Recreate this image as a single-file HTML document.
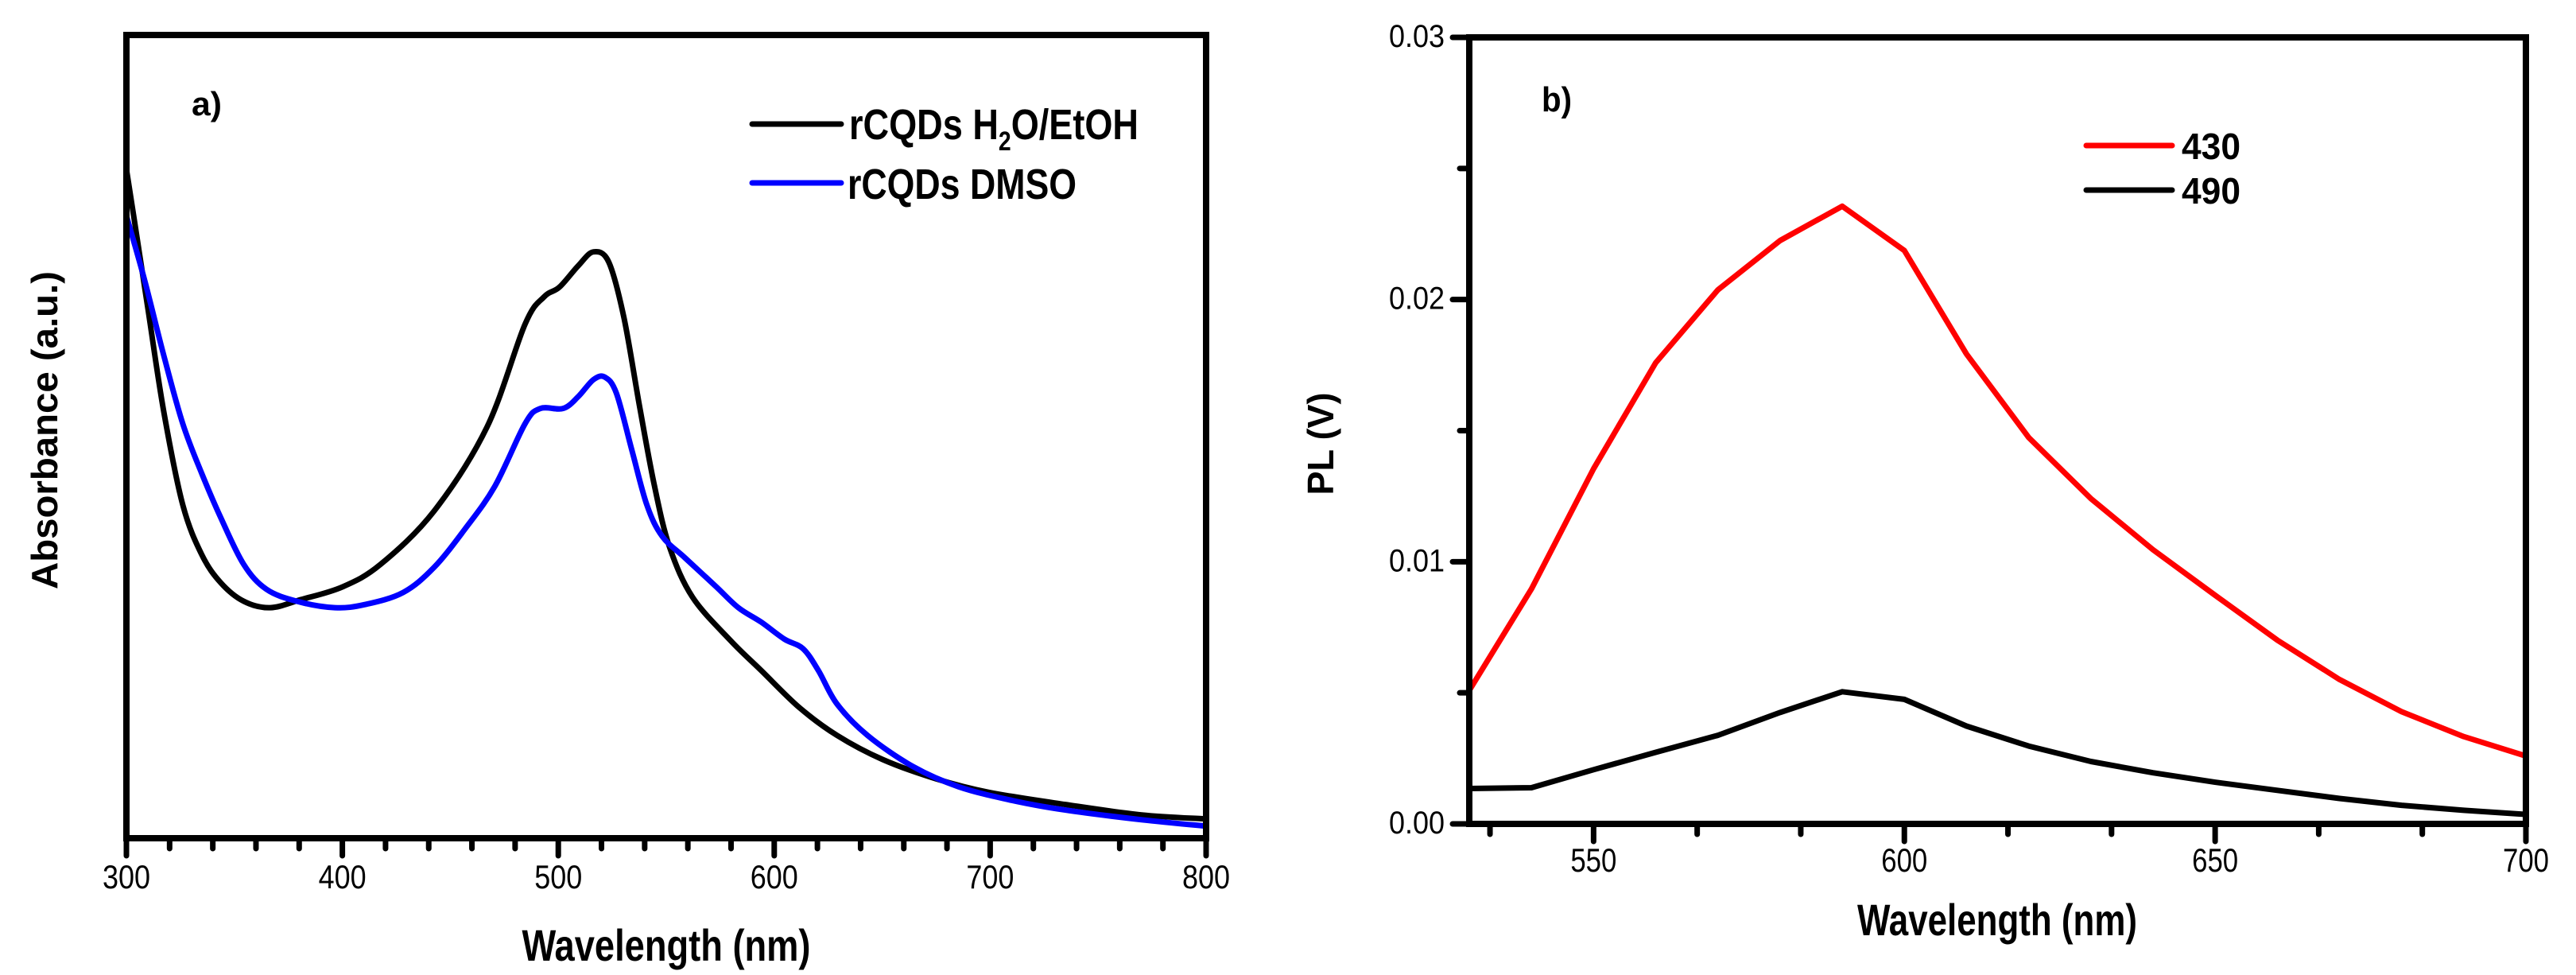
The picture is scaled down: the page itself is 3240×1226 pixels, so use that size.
<!DOCTYPE html>
<html><head><meta charset="utf-8"><style>
html,body{margin:0;padding:0;background:#fff;}
svg{display:block;}
text{font-family:"Liberation Sans Narrow","Liberation Sans",sans-serif;fill:#000;}
</style></head>
<body>
<svg id="fig" width="3240" height="1226" viewBox="0 0 3240 1226" xmlns="http://www.w3.org/2000/svg">
<g id="panelA"></g>
<g id="panelB"></g>
</svg>
<script>
// ---- Panel A data (absorbance, arbitrary units 0..1 of axis height) ----
const absWavelengthH2O = [300,304.9,310.2,317.3,326.1,334.9,343.7,354.3,366.6,380.7,400.1,417.7,442.4,467.0,484.6,493.4,500.5,509.3,516.3,523.4,530.4,537.5,544.5,551.6,562.2,579.8,593.9,611.5,629.1,650.2,674.9,699.6,734.8,770.1,800];
const absValuesH2O = [0.833,0.748,0.655,0.531,0.415,0.353,0.318,0.295,0.287,0.297,0.313,0.341,0.407,0.512,0.640,0.674,0.686,0.713,0.730,0.717,0.648,0.540,0.439,0.362,0.300,0.246,0.209,0.163,0.128,0.098,0.074,0.057,0.042,0.029,0.024];
const absWavelengthDMSO = [300,308.5,317.3,326.1,334.9,343.7,354.3,364.8,378.9,396.5,410.6,428.2,442.4,456.5,470.6,484.6,491.7,502.3,509.3,516.3,521.6,526.9,534.0,541.0,548.1,558.7,572.8,583.4,594.0,604.6,613.3,620.4,629.1,643.2,664.4,685.5,710.1,734.8,770.1,800];
const absValuesDMSO = [0.775,0.694,0.601,0.516,0.454,0.399,0.341,0.310,0.295,0.287,0.291,0.306,0.337,0.384,0.438,0.516,0.535,0.535,0.550,0.571,0.574,0.554,0.484,0.415,0.376,0.349,0.314,0.287,0.269,0.248,0.236,0.209,0.167,0.128,0.089,0.064,0.047,0.035,0.023,0.015];
const absXTicks = [300,400,500,600,700,800];
const absXTickLabels = ["300","400","500","600","700","800"];

// ---- Panel B data (PL) ----
const plWavelength = [530,540,550,560,570,580,590,600,610,620,630,640,650,660,670,680,690,700];
const pl430 = [0.00509,0.00896,0.01355,0.01759,0.02037,0.02225,0.02356,0.02187,0.01792,0.01474,0.01241,0.01046,0.00872,0.00701,0.00551,0.00428,0.00333,0.00259];
const pl490 = [0.00135,0.00138,0.00207,0.00273,0.00338,0.00425,0.00504,0.00475,0.00373,0.00297,0.00238,0.00195,0.00159,0.00128,0.00097,0.00071,0.00052,0.00036];
const plXTicks = [550,600,650,700];
const plXTickLabels = ["550","600","650","700"];
const plYTicks = [0,0.01,0.02,0.03];
const plYTickLabels = ["0.00","0.01","0.02","0.03"];

const NS = "http://www.w3.org/2000/svg";
function mk(parent, tag, attrs, txt){
  const e = document.createElementNS(NS, tag);
  for (const k in attrs) e.setAttribute(k, attrs[k]);
  if (txt !== undefined) e.textContent = txt;
  parent.appendChild(e);
  return e;
}
function pathFrom(xs, ys, fx, fy){
  return xs.map((x,i)=>(i?"L":"M")+fx(x).toFixed(1)+","+fy(ys[i]).toFixed(1)).join(" ");
}
function smoothPath(xs, ys, fx, fy){
  const P = xs.map((x,i)=>[fx(x), fy(ys[i])]);
  let d = "M"+P[0][0].toFixed(1)+","+P[0][1].toFixed(1);
  for (let i=0;i<P.length-1;i++){
    const p0=P[Math.max(0,i-1)], p1=P[i], p2=P[i+1], p3=P[Math.min(P.length-1,i+2)];
    const c1=[p1[0]+(p2[0]-p0[0])/6, p1[1]+(p2[1]-p0[1])/6];
    const c2=[p2[0]-(p3[0]-p1[0])/6, p2[1]-(p3[1]-p1[1])/6];
    d += " C"+c1[0].toFixed(1)+","+c1[1].toFixed(1)+" "+c2[0].toFixed(1)+","+c2[1].toFixed(1)+" "+p2[0].toFixed(1)+","+p2[1].toFixed(1);
  }
  return d;
}

// ================= Panel A =================
(function(){
  const g = document.getElementById("panelA");
  const L=159, R=1517, T=44, B=1054;
  const x = v => L + (v-300)/(800-300)*(R-L);
  const y = v => B - v*(B-T);

  let e;
  mk(g,"clipPath",{id:"clipA"});
  mk(document.getElementById("clipA"),"rect",{x:L,y:T,width:R-L,height:B-T});
  e = mk(g,"path",{d:smoothPath(absWavelengthH2O,absValuesH2O,x,y),fill:"none",stroke:"#000","stroke-width":7,"stroke-linejoin":"round","clip-path":"url(#clipA)"});
  
  
  e = mk(g,"path",{d:smoothPath(absWavelengthDMSO,absValuesDMSO,x,y),fill:"none",stroke:"#0000ff","stroke-width":7,"stroke-linejoin":"round","clip-path":"url(#clipA)"});
  
  

  e = mk(g,"rect",{x:L,y:T,width:R-L,height:B-T,fill:"none",stroke:"#000","stroke-width":8});
  
  

  for (let v=300; v<=800; v+=20){
    const major = (v%100===0);
    e = mk(g,"line",{x1:x(v),x2:x(v),y1:B,y2:B+(major?22:13),stroke:"#000","stroke-width":7,"stroke-linecap":"round"});
    
    
  }
  absXTicks.forEach((v,i)=>{
    e = mk(g,"text",{x:x(v),y:1117,"font-size":42,"text-anchor":"middle",textLength:60,lengthAdjust:"spacingAndGlyphs"},absXTickLabels[i]);
    
    
  });

  e = mk(g,"text",{x:838,y:1208,"font-size":56,"font-weight":"bold","text-anchor":"middle",textLength:363,lengthAdjust:"spacingAndGlyphs"},"Wavelength (nm)");
  
  

  e = mk(g,"text",{x:0,y:0,"font-size":46,"font-weight":"bold","text-anchor":"middle",transform:"translate(72,541) rotate(-90)",textLength:400,lengthAdjust:"spacingAndGlyphs",style:"font-family:'Liberation Sans',sans-serif"},"Absorbance (a.u.)");
  
  

  e = mk(g,"text",{x:241,y:145,"font-size":42,"font-weight":"bold",textLength:38,lengthAdjust:"spacingAndGlyphs"},"a)");
  
  

  const lg = mk(g,"g",{});
  
  
  e = mk(lg,"line",{x1:946,x2:1058,y1:156,y2:156,stroke:"#000","stroke-width":7,"stroke-linecap":"round"});
  
  
  e = mk(lg,"text",{x:1068,y:175,"font-size":54,"font-weight":"bold",textLength:364,lengthAdjust:"spacingAndGlyphs"});
  
  
  e.innerHTML = 'rCQDs H<tspan font-size="34" dy="14">2</tspan><tspan dy="-14">O/EtOH</tspan>';
  e = mk(lg,"line",{x1:946,x2:1058,y1:230,y2:230,stroke:"#0000ff","stroke-width":7,"stroke-linecap":"round"});
  
  
  e = mk(lg,"text",{x:1066,y:250,"font-size":54,"font-weight":"bold",textLength:288,lengthAdjust:"spacingAndGlyphs"},"rCQDs DMSO");
  
  
})();

// ================= Panel B =================
(function(){
  const g = document.getElementById("panelB");
  const L=1848, R=3177, T=47, B=1036;
  const x = v => L + (v-530)/(700-530)*(R-L);
  const y = v => B - v/0.03*(B-T);
  let e;

  mk(g,"clipPath",{id:"clipB"});
  mk(document.getElementById("clipB"),"rect",{x:L,y:T,width:R-L,height:B-T});
  e = mk(g,"path",{d:pathFrom(plWavelength,pl490,x,y),fill:"none",stroke:"#000","stroke-width":7,"stroke-linejoin":"round","clip-path":"url(#clipB)"});
  
  
  e = mk(g,"path",{d:pathFrom(plWavelength,pl430,x,y),fill:"none",stroke:"#ff0000","stroke-width":7,"stroke-linejoin":"round","clip-path":"url(#clipB)"});
  
  

  e = mk(g,"rect",{x:L,y:T,width:R-L,height:B-T,fill:"none",stroke:"#000","stroke-width":8});
  
  

  for (let k=0;k<=10;k++){
    const v = 700 - k*50/3;
    if (v < 530) break;
    const major = (k%3===0);
    e = mk(g,"line",{x1:x(v),x2:x(v),y1:B,y2:B+(major?22:13),stroke:"#000","stroke-width":7,"stroke-linecap":"round"});
    
    
  }
  plXTicks.forEach((v,i)=>{
    e = mk(g,"text",{x:x(v),y:1096,"font-size":42,"text-anchor":"middle",textLength:58,lengthAdjust:"spacingAndGlyphs"},plXTickLabels[i]);
    
    
  });
  for (let v=0; v<=0.03001; v+=0.005){
    const major = Math.abs(v*100 - Math.round(v*100))<1e-6;
    e = mk(g,"line",{x1:L,x2:L-(major?21:12),y1:y(v),y2:y(v),stroke:"#000","stroke-width":7,"stroke-linecap":"round"});
    
    
  }
  plYTicks.forEach((v,i)=>{
    e = mk(g,"text",{x:1817,y:y(v)+12,"font-size":40,"text-anchor":"end",textLength:70,lengthAdjust:"spacingAndGlyphs"},plYTickLabels[i]);
    
    
  });

  e = mk(g,"text",{x:2512,y:1176,"font-size":56,"font-weight":"bold","text-anchor":"middle",textLength:352,lengthAdjust:"spacingAndGlyphs"},"Wavelength (nm)");
  
  

  e = mk(g,"text",{x:0,y:0,"font-size":46,"font-weight":"bold","text-anchor":"middle",transform:"translate(1677,558) rotate(-90)",textLength:129,lengthAdjust:"spacingAndGlyphs",style:"font-family:'Liberation Sans',sans-serif"},"PL (V)");
  
  

  e = mk(g,"text",{x:1939,y:140,"font-size":44,"font-weight":"bold",textLength:38,lengthAdjust:"spacingAndGlyphs"},"b)");
  
  

  const lg = mk(g,"g",{});
  
  
  e = mk(lg,"line",{x1:2624,x2:2732,y1:183,y2:183,stroke:"#ff0000","stroke-width":7,"stroke-linecap":"round"});
  
  
  e = mk(lg,"text",{x:2744,y:200,"font-size":46,"font-weight":"bold",textLength:74,lengthAdjust:"spacingAndGlyphs"},"430");
  
  
  e = mk(lg,"line",{x1:2624,x2:2732,y1:239,y2:239,stroke:"#000","stroke-width":7,"stroke-linecap":"round"});
  
  
  e = mk(lg,"text",{x:2744,y:256,"font-size":46,"font-weight":"bold",textLength:74,lengthAdjust:"spacingAndGlyphs"},"490");
  
  
})();
</script>
</body></html>
